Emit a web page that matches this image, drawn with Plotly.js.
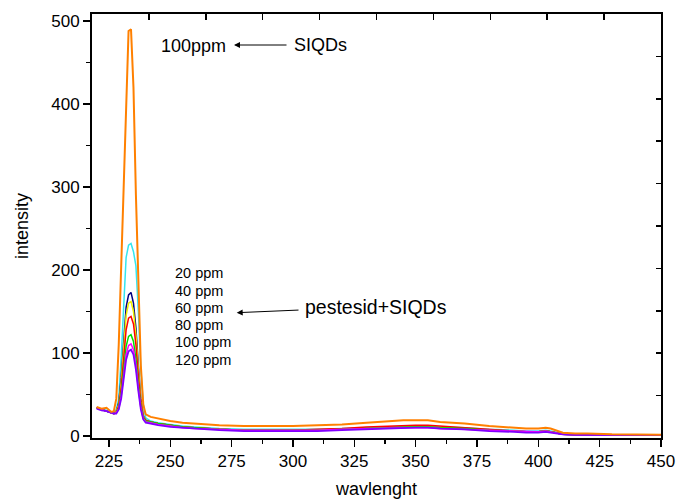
<!DOCTYPE html>
<html>
<head>
<meta charset="utf-8">
<script src="https://cdn.plot.ly/plotly-3.0.1.min.js"></script>
<style>html,body{margin:0;padding:0;background:#fff}#chart{width:678px;height:504px}</style>
</head>
<body>
<div id="chart"></div>
<script>
// wavelength (nm)
const wavelength = [220,222,224,225,226,227,228,229,230,231,232,233,234,235,236,237,238,239,240,242,245,250,255,260,270,280,290,300,310,320,330,340,345,350,355,360,370,380,390,395,400,403,405,408,410,415,420,430,440,450];

// SIQDs alone (100 ppm)
const siqds100 = [35,33,34,31,29,30,45,110,210,310,405,488,490,420,290,170,85,38,26,23,21,18,16,15,13,12,12,12,13,14,16,18,19,19,19,17,15,12,10,9,9,10,9,6,4,3,3,2,2,1.5];
// pestesid + SIQDs series
const cyanS    = [34,32,31,30,28,28,32,45,95,165,215,230,232,222,205,150,80,38,22,18,16,14,12,11,9,8,8,8,8,9,10,11,12,12,12,11,10,8,7,6,6,7,6,4,3,2,2,1.5,1,1];
const navyS    = [34,32,30,29,28,27,30,40,70,115,155,170,173,160,130,85,45,25,19,17,15,13,11,10,8,7,7,7,7,8,9,10,11,11,11,10,9,7,6,5,5,6,5,3,2,1.5,1.5,1,1,1];
const yellowS  = [34,32,30,29,28,27,30,38,65,108,145,160,162,150,122,80,42,24,19,17,15,13,11,10,8,7,7,7,7,8,9,10,11,11,11,10,9,7,6,5,5,6,5,3,2,1.5,1.5,1,1,1];
const redS     = [34,32,30,29,28,27,29,36,58,95,128,142,144,135,110,72,40,23,19,17,15,13,11,10,8,7,7,7,8,9,11,12,13,13,13,12,10,8,6,5,5,6,5,3,2,1.5,1.5,1,1,1];
const greenS   = [34,32,30,29,28,27,28,34,52,82,108,120,122,114,93,62,36,22,18,17,15,13,11,10,8,7,7,7,7,8,9,10,11,11,11,10,9,7,6,5,5,6,5,3,2,1.5,1.5,1,1,1];
const magentaS = [34,32,30,29,28,27,28,33,48,75,98,109,111,104,85,57,34,21,17,16,14,12,10,9,8,7,7,7,7,8,9,10,10,10,10,9,8,7,6,5,5,6,5,3,2,1.5,1.5,1,1,1];
const purpleS  = [33,31,30,29,28,27,27,32,45,70,92,102,104,98,80,54,32,20,16,15,13,11,10,9,7,6,6,6,6,7,8,9,10,10,10,9,8,6,5,4,4,5,4,3,2,1.5,1.5,1,1,1];

const seriesList = [cyanS, navyS, yellowS, redS, greenS, magentaS, purpleS, siqds100];
const seriesNames = ['pestesid+SIQDs a','pestesid+SIQDs b','pestesid+SIQDs c','pestesid+SIQDs d','pestesid+SIQDs e','pestesid+SIQDs f','pestesid+SIQDs g','SIQDs 100ppm'];
const seriesColors = ['#33E6EE','#000080','#F0F000','#FF0000','#00E000','#FF00FF','#8000FF','#FF8000'];
const seriesWidths = [1.5,1.5,1.5,1.5,1.5,1.5,1.8,2];

const concLabels = ['20 ppm','40 ppm','60 ppm','80 ppm','100 ppm','120 ppm'];

const FONT = 'Arial, "Liberation Sans", sans-serif';

const traces = seriesList.map((ys, i) => ({
  x: wavelength, y: ys, type: 'scatter', mode: 'lines', name: seriesNames[i],
  line: {color: seriesColors[i], width: seriesWidths[i]}
}));
// empty trace so the top/right tick-only axes exist
traces.push({x: [], y: [], type: 'scatter', mode: 'lines', xaxis: 'x2', yaxis: 'y2', hoverinfo: 'skip'});

// plot-area pixel helpers for annotations (paper coords)
const L = 92, R = 661, T = 14, B = 438;
const px = v => (v - L) / (R - L);
const py = v => (B - v) / (B - T);

const annotations = [];
annotations.push({xref:'paper', yref:'paper', x:px(193.5), y:py(46), text:'100ppm', showarrow:false,
  xanchor:'center', yanchor:'middle', font:{family:FONT, size:18, color:'#000'}});
annotations.push({xref:'paper', yref:'paper', x:px(234), y:py(45), text:'', showarrow:true,
  ax:54, ay:0, arrowhead:2, arrowsize:1.2, arrowwidth:1, arrowcolor:'#000'});
annotations.push({xref:'paper', yref:'paper', x:px(292), y:py(45), text:'SIQDs', showarrow:false,
  xanchor:'left', yanchor:'middle', font:{family:FONT, size:18, color:'#000'}});
const concY = [272.7, 290.7, 307.7, 325, 342.3, 360];
concLabels.forEach((t, i) => annotations.push({xref:'paper', yref:'paper', x:px(172.5), y:py(concY[i]), text:t,
  showarrow:false, xanchor:'left', yanchor:'middle', font:{family:FONT, size:14.5, color:'#000'}}));
annotations.push({xref:'paper', yref:'paper', x:px(236.7), y:py(312.7), text:'', showarrow:true,
  ax:63.3, ay:-2.7, arrowhead:2, arrowsize:1.2, arrowwidth:1, arrowcolor:'#000'});
annotations.push({xref:'paper', yref:'paper', x:px(303), y:py(307), text:'pestesid+SIQDs', showarrow:false,
  xanchor:'left', yanchor:'middle', font:{family:FONT, size:19.5, color:'#000'}});

const layout = {
  width: 678, height: 504,
  margin: {l: L, r: 678 - R, t: T, b: 504 - B, pad: 0},
  paper_bgcolor: '#fff', plot_bgcolor: '#fff',
  showlegend: false,
  font: {family: FONT, color: '#000'},
  xaxis: {
    range: [218.1, 450], tick0: 0, dtick: 25, showgrid: false, zeroline: false,
    showline: true, linewidth: 2, linecolor: '#000', mirror: true,
    ticks: 'outside', ticklen: 7, tickwidth: 1.5, tickcolor: '#000',
    tickfont: {family: FONT, size: 17, color: '#000'},
    minor: {ticks: 'outside', ticklen: 4, tickwidth: 1.5, dtick: 12.5, tick0: 0, tickcolor: '#000', showgrid: false},
    title: {text: 'wavlenght', font: {family: FONT, size: 18, color: '#000'}, standoff: 12}
  },
  yaxis: {
    range: [-2.4, 508.4], tick0: 0, dtick: 100, showgrid: false, zeroline: false,
    showline: true, linewidth: 2, linecolor: '#000', mirror: true,
    ticks: 'outside', ticklen: 7, tickwidth: 1.5, tickcolor: '#000',
    tickfont: {family: FONT, size: 17, color: '#000'},
    minor: {ticks: 'outside', ticklen: 4, tickwidth: 1.5, dtick: 50, tick0: 0, tickcolor: '#000', showgrid: false},
    title: {text: 'intensity', font: {family: FONT, size: 18, color: '#000'}, standoff: 18}
  },
  xaxis2: {
    overlaying: 'x', side: 'top', anchor: 'y', range: [0, 10], tick0: 0, dtick: 1,
    ticks: 'inside', ticklen: 6, tickwidth: 1.5, tickcolor: '#000',
    showticklabels: false, showline: false, showgrid: false, zeroline: false
  },
  yaxis2: {
    overlaying: 'y', side: 'right', anchor: 'x', range: [0, 10], tick0: 0, dtick: 1,
    ticks: 'inside', ticklen: 5, tickwidth: 1.5, tickcolor: '#000',
    showticklabels: false, showline: false, showgrid: false, zeroline: false
  },
  annotations: annotations
};

Plotly.newPlot('chart', traces, layout, {displayModeBar: false, staticPlot: true});
</script>
</body>
</html>
